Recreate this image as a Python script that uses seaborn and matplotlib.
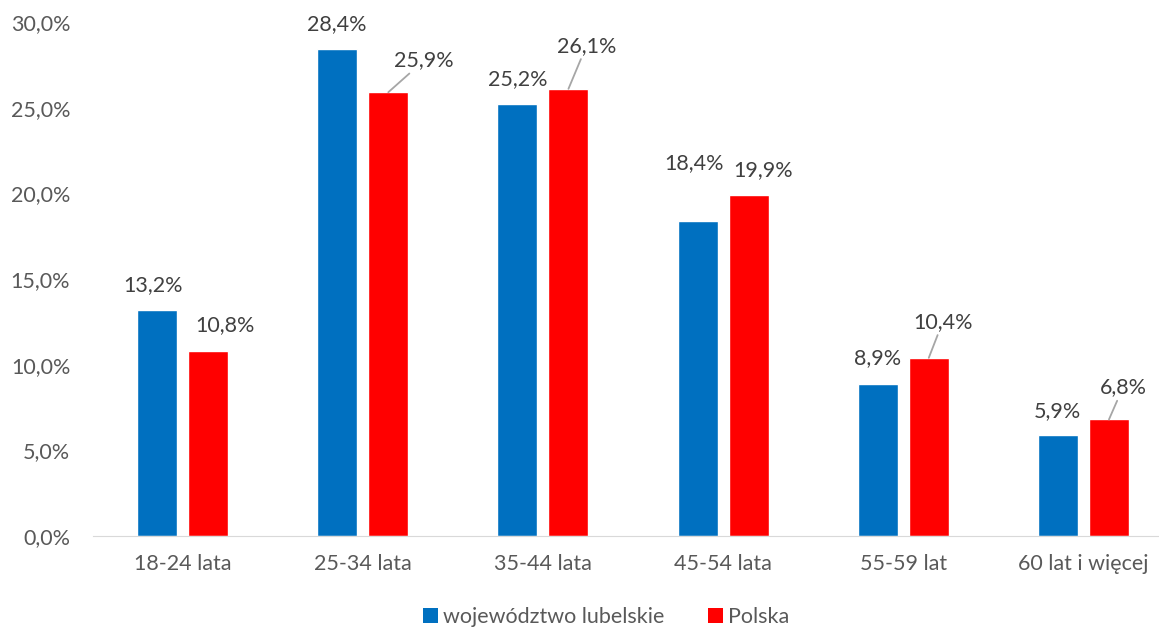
import pandas as pd
import seaborn as sns
import matplotlib.pyplot as plt
from matplotlib.patches import Patch

# dane
kategorie = ['18-24 lata', '25-34 lata', '35-44 lata', '45-54 lata', '55-59 lat', '60 lat i więcej']
lubelskie = [13.2, 28.4, 25.2, 18.4, 8.9, 5.9]
polska = [10.8, 25.9, 26.1, 19.9, 10.4, 6.8]
serie = ['województwo lubelskie', 'Polska']
kolory = ['#0070C0', '#FF0000']

# przesunięcia etykiet (piksele) i linie odniesienia
off_lub = [(-4, 25), (0, 25), (0, 25), (-3, 58), (0, 25), (0, 24)]
off_pol = [(17, 26), (36, 32), (18, 43), (14, 25), (14, 36), (14, 32)]
linie_pol = [False, True, True, False, True, True]

df = pd.DataFrame({
    'kategoria': kategorie * 2,
    'wartosc': lubelskie + polska,
    'seria': [serie[0]] * len(kategorie) + [serie[1]] * len(kategorie),
})

sns.set_style('white')
plt.rcParams['font.family'] = ['Lato', 'DejaVu Sans']

fig = plt.figure(figsize=(11.59, 6.28), dpi=100)
ax = fig.add_axes([92.5 / 1159, 92 / 628, 1081 / 1159, 514 / 628])

sns.barplot(data=df, x='kategoria', y='wartosc', hue='seria', palette=kolory,
            width=0.567, gap=0.216, ax=ax, legend=False, saturation=1)

ax.set_ylim(0, 30)
ax.set_xlim(-0.5, len(kategorie) - 0.5)
ax.set_yticks(range(0, 31, 5))
ax.set_yticklabels([f'{v:.1f}'.replace('.', ',') + '%' for v in range(0, 31, 5)])
ax.set_xlabel('')
ax.set_ylabel('')
ax.tick_params(axis='both', length=0, labelsize=15.5, colors='#595959')
ax.tick_params(axis='y', pad=16)
ax.tick_params(axis='x', pad=13)
for s in ['top', 'right', 'left']:
    ax.spines[s].set_visible(False)
ax.spines['bottom'].set_color('#D9D9D9')
ax.grid(False)


def fmt(v):
    return f'{v:.1f}'.replace('.', ',') + '%'


for bar, v, (dx, dy) in zip(ax.containers[0], lubelskie, off_lub):
    x = bar.get_x() + bar.get_width() / 2
    ax.annotate(fmt(v), xy=(x, v), xytext=(dx, dy), textcoords='offset pixels',
                ha='center', va='center', fontsize=15.5, color='#404040')

for bar, v, (dx, dy), ln in zip(ax.containers[1], polska, off_pol, linie_pol):
    x = bar.get_x() + bar.get_width() / 2
    ap = dict(arrowstyle='-', color='#A6A6A6', lw=1.3, shrinkA=0, shrinkB=0) if ln else None
    ax.annotate(fmt(v), xy=(x, v), xytext=(dx, dy), textcoords='offset pixels',
                ha='center', va='center', fontsize=15.5, color='#404040',
                arrowprops=ap)

uchwyty = [Patch(facecolor=c, edgecolor='none') for c in kolory]
fig.legend(uchwyty, serie, loc='lower center', bbox_to_anchor=(0.523, -0.03), ncol=2,
           frameon=False, fontsize=15.5, handlelength=0.7, handleheight=0.7,
           handletextpad=0.25, columnspacing=2.0, labelcolor='#595959')

fig.savefig('out.png', dpi=100)
